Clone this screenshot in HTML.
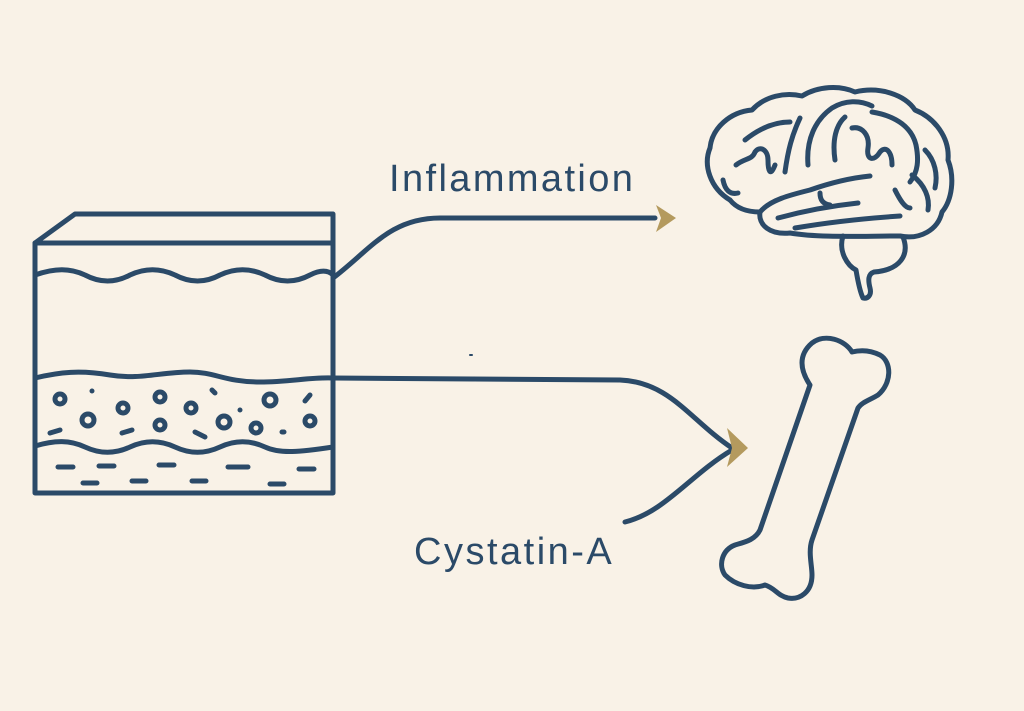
<!DOCTYPE html>
<html><head><meta charset="utf-8"><style>
html,body{margin:0;padding:0;background:#f9f2e7;}
svg{display:block}
</style></head><body>
<svg width="1024" height="711" viewBox="0 0 1024 711" xmlns="http://www.w3.org/2000/svg">
<rect width="1024" height="711" fill="#f9f2e7"/>
<g fill="none" stroke="#2b4a68" stroke-width="5" stroke-linecap="round" stroke-linejoin="round">
<path d="M35,243 L75,214 L333,214 L333,493 L35,493 Z"/>
<path d="M35,243 L333,243"/>
<path d="M35,275 C55,268 70,268 85,275 C100,283 115,283 130,275 C145,268 160,268 175,275 C190,283 205,283 220,275 C235,268 250,268 265,275 C280,283 295,283 310,275 C320,270 328,270 333,275"/>
<path d="M35,378 C60,372 80,370 110,375 C140,380 160,372 190,372 C215,372 225,382 260,382 C290,382 310,377 333,378"/>
<path d="M35,446 C55,440 70,440 85,447 C100,454 115,454 130,447 C145,440 160,440 175,447 C190,454 205,454 220,447 C235,440 250,440 265,447 C280,454 300,452 333,447"/>
<circle cx="60" cy="399" r="5"/><circle cx="88" cy="420" r="6"/><circle cx="123" cy="408" r="5"/>
<circle cx="160" cy="397" r="5"/><circle cx="160" cy="425" r="5"/><circle cx="191" cy="408" r="5"/>
<circle cx="224" cy="422" r="6"/><circle cx="256" cy="428" r="5"/><circle cx="270" cy="400" r="6"/><circle cx="310" cy="421" r="5"/>
<path d="M50,433 L60,430 M122,433 L132,430 M195,432 L205,437 M212,390 L215,393 M240,410 L240,410 M282,432 L284,432 M305,401 L310,395 M92,391 L92,391"/>
<path d="M58,467 L73,467 M99,466 L114,466 M159,465 L174,465 M228,467 L248,467 M299,469 L314,469 M83,483 L97,483 M132,481 L146,481 M192,481 L206,481 M270,484 L284,484"/>
<path d="M333,278 C370,250 390,218 440,218 L655,218"/>
<path d="M333,378 L620,380 C670,382 690,420 732,448"/>
<path d="M625,522 C665,512 690,475 732,450"/>
<path d="M470,355 L472,355" stroke-width="2"/>
<path d="M730,200 C710,188 703,165 710,148 C712,128 730,112 752,110 C765,96 785,92 802,96 C818,86 840,85 855,92 C880,86 905,95 915,110 C935,118 950,138 948,160 C955,178 952,200 942,212 C938,230 920,240 900,236"/>
<path d="M730,200 C738,210 750,212 760,212 C758,225 770,235 790,233 C820,238 860,236 900,236"/>
<path d="M843,236 C838,252 848,266 856,270 C858,282 860,292 863,298 C867,299 872,296 870,288 C868,280 868,274 874,272 C900,270 910,255 903,237"/>
<path d="M760,212 C770,200 790,195 810,190 C830,183 850,178 870,176"/>
<path d="M778,218 C800,212 830,206 858,203"/>
<path d="M795,228 C830,222 870,218 900,216"/>
<path d="M820,193 C820,200 823,204 830,205"/>
<path d="M723,180 C725,190 730,195 738,193"/>
<path d="M736,165 C745,158 752,160 755,152 C760,145 768,150 768,160 C768,170 770,178 775,165"/>
<path d="M745,140 C760,128 775,122 790,122"/>
<path d="M785,172 C788,150 792,135 800,118"/>
<path d="M808,165 C806,140 815,120 832,108 C845,100 860,100 872,106"/>
<path d="M835,160 C832,140 836,125 845,117"/>
<path d="M852,128 C862,126 870,135 868,148 C866,160 874,162 880,152 C886,145 892,152 892,165"/>
<path d="M872,112 C897,116 912,128 916,145 C919,160 918,172 910,182"/>
<path d="M895,190 C900,200 905,208 910,208"/>
<path d="M912,175 C925,185 930,198 928,210"/>
<path d="M925,150 C935,160 938,175 935,188"/>
<path d="M810,385 C800,370 798,355 812,343 C825,333 845,340 852,352 C860,350 870,350 880,355 C892,362 892,383 878,395 C870,400 862,402 858,408 L812,540 C808,552 812,565 812,575 C812,592 800,600 788,598 C778,596 775,588 765,585 C752,590 735,585 725,575 C718,565 722,550 735,545 C745,542 755,540 760,530 Z"/>
</g>
<g fill="#b49a5e">
<path d="M656,205 L676,218 L656,232 L661,218 Z"/>
<path d="M727,428 L748,448 L727,467 L732,448 Z"/>
</g>
<g font-family="'Liberation Sans', sans-serif" fill="#2b4a68" font-size="38">
<text x="389" y="191" letter-spacing="2.4">Inflammation</text>
<text x="414" y="564" letter-spacing="2.5">Cystatin-A</text>
</g>
</svg>
</body></html>
